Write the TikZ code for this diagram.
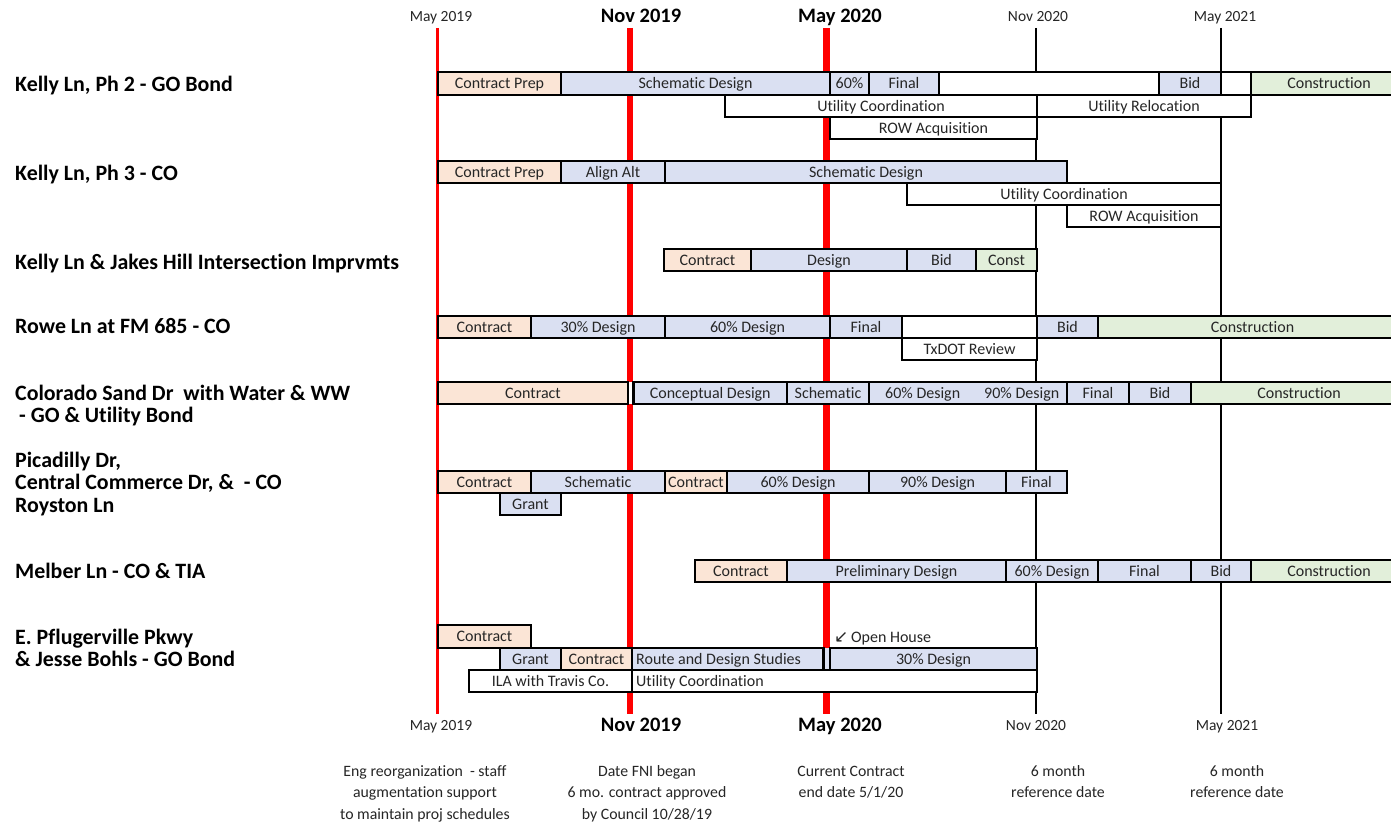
\documentclass[tikz,border=0pt]{standalone}
\usepackage{fontspec}
\setmainfont{Carlito}[Ligatures=NoCommon]
\newfontfamily\arrowfont{DejaVu Sans}
\definecolor{peach}{HTML}{FBE5D6}
\definecolor{lblue}{HTML}{DAE0F2}
\definecolor{lgreen}{HTML}{E2EFDA}
\definecolor{txt}{HTML}{262626}
\definecolor{vred}{HTML}{FF0000}
\tikzset{
  segbox/.style={draw=black, line width=2.8pt, inner sep=0pt, text=txt,
    text height=12pt, text depth=1.7pt,
    font=\fontsize{16}{18}\selectfont},
  segtext/.style={inner sep=0pt, text=txt, anchor=base west,
    font=\fontsize{16}{18}\selectfont},
  rowlabel/.style={anchor=base west, inner sep=0pt, text=black,
    font=\bfseries\fontsize{21.9}{23}\selectfont},
  datesmall/.style={inner sep=0pt, anchor=base, text=txt, font=\fontsize{15.5}{18}\selectfont},
  datebig/.style={inner sep=0pt, anchor=base, text=black, font=\bfseries\fontsize{20.5}{23}\selectfont},
  note/.style={inner sep=0pt, anchor=base, text=txt, font=\fontsize{15.8}{21.5}\selectfont},
  redthin/.style={draw=vred, line width=2.5pt},
  redthick/.style={draw=vred, line width=6.5pt},
  blackline/.style={draw=black, line width=2.5pt},
}
% name, x1, x2, y1, y2, fill, text
\newcommand\seg[7]{%
  \pgfmathsetmacro\segw{#3-#2}%
  \pgfmathsetmacro\segh{#5-#4}%
  \node[segbox, fill=#6, minimum width=\segw pt, minimum height=\segh pt] (#1)
    at ({(#2+#3)/2},{(#4+#5)/2}) {#7};}
\begin{document}
\begin{tikzpicture}[x=1pt,y=-1pt]
\useasboundingbox (0,0) rectangle (1391,824);
\fill[white] (0,0) rectangle (1391,824);

% vertical time lines
\coordinate (m19t) at (437.5,28); \coordinate (m19b) at (437.5,714);
\coordinate (n19t) at (630,28);   \coordinate (n19b) at (630,714);
\coordinate (m20t) at (826.7,28); \coordinate (m20b) at (826.7,714);
\coordinate (n20t) at (1036,28);  \coordinate (n20b) at (1036,714);
\coordinate (m21t) at (1221,28);  \coordinate (m21b) at (1221,714);
\draw[redthin] (m19t) -- (m19b);
\draw[redthick] (n19t) -- (n19b);
\draw[redthick] (m20t) -- (m20b);
\draw[blackline] (n20t) -- (n20b);
\draw[blackline] (m21t) -- (m21b);

% top date labels
\node[datesmall] (tm19) at (441,21.7) {May 2019};
\node[datebig]   (tn19) at (641,22.7) {Nov 2019};
\node[datebig]   (tm20) at (840,22.7) {May 2020};
\node[datesmall] (tn20) at (1038,21.7) {Nov 2020};
\node[datesmall] (tm21) at (1225,21.7) {May 2021};
% bottom date labels
\node[datesmall] (bm19) at (441,730) {May 2019};
\node[datebig]   (bn19) at (641,731) {Nov 2019};
\node[datebig]   (bm20) at (840,731) {May 2020};
\node[datesmall] (bn20) at (1036,730) {Nov 2020};
\node[datesmall] (bm21) at (1227,730) {May 2021};

% row labels
\node[rowlabel] (l1) at (15,91.7) {Kelly Ln, Ph 2 - GO Bond};
\node[rowlabel] (l2) at (15,180.5) {Kelly Ln, Ph 3 - CO};
\node[rowlabel] (l3) at (15,269) {Kelly Ln \& Jakes Hill Intersection Imprvmts};
\node[rowlabel] (l4) at (15,333.5) {Rowe Ln at FM 685 - CO};
\node[rowlabel] (l5a) at (15,400) {Colorado Sand Dr\ \ with Water \& WW};
\node[rowlabel] (l5b) at (15,422.5) {\hspace*{4pt}- GO \& Utility Bond};
\node[rowlabel] (l6a) at (15,467) {Picadilly Dr,};
\node[rowlabel] (l6b) at (15,489.5) {Central Commerce Dr, \&\ \ - CO};
\node[rowlabel] (l6c) at (15,512) {Royston Ln};
\node[rowlabel] (l7) at (15,578.5) {Melber Ln - CO \& TIA};
\node[rowlabel] (l8a) at (15,644) {E. Pflugerville Pkwy};
\node[rowlabel] (l8b) at (15,666.5) {\& Jesse Bohls - GO Bond};

% Row 1: Kelly Ln Ph 2
\seg{a1}{438}{561}{72}{95}{peach}{Contract Prep}
\seg{a2}{561}{830}{72}{95}{lblue}{Schematic Design}
\seg{a3}{830}{869}{72}{95}{lblue}{60\%}
\seg{a4}{869}{939}{72}{95}{lblue}{Final}
\seg{a5}{939}{1159}{72}{95}{white}{}
\seg{a6}{1159}{1221}{72}{95}{lblue}{Bid}
\seg{a7}{1221}{1251}{72}{95}{white}{}
\seg{a8}{1251}{1407}{72}{95}{lgreen}{Construction}
\seg{a9}{725}{1037}{95}{117}{white}{Utility Coordination}
\seg{a10}{1037}{1251}{95}{117}{white}{Utility Relocation}
\seg{a11}{830}{1037}{117}{139}{white}{ROW Acquisition}

% Row 2: Kelly Ln Ph 3
\seg{b1}{438}{561}{161}{183}{peach}{Contract Prep}
\seg{b2}{561}{665}{161}{183}{lblue}{Align Alt}
\seg{b3}{665}{1067}{161}{183}{lblue}{Schematic Design}
\seg{b4}{907}{1221}{183}{205}{white}{Utility Coordination}
\seg{b5}{1067}{1221}{205}{227}{white}{ROW Acquisition}

% Row 3: Kelly Ln & Jakes Hill
\seg{c1}{664}{751}{249}{271}{peach}{Contract}
\seg{c2}{751}{907}{249}{271}{lblue}{Design}
\seg{c3}{907}{976}{249}{271}{lblue}{Bid}
\seg{c4}{976}{1037}{249}{271}{lgreen}{Const}

% Row 4: Rowe Ln
\seg{d1}{438}{531}{316}{338}{peach}{Contract}
\seg{d2}{531}{665}{316}{338}{lblue}{30\% Design}
\seg{d3}{665}{830}{316}{338}{lblue}{60\% Design}
\seg{d4}{830}{902}{316}{338}{lblue}{Final}
\seg{d5}{902}{1037}{316}{338}{white}{}
\seg{d6}{1037}{1098}{316}{338}{lblue}{Bid}
\seg{d7}{1098}{1407}{316}{338}{lgreen}{Construction}
\seg{d8}{902}{1037}{338}{360}{white}{TxDOT Review}

% Row 5: Colorado Sand Dr
\fill[white] (628,382) rectangle (633.5,404);
\seg{e1}{438}{628}{382}{404}{peach}{Contract}
\seg{e2}{633.5}{787}{382}{404}{lblue}{Conceptual Design}
\seg{e3}{787}{869}{382}{404}{lblue}{Schematic}
\seg{e4}{869}{1067}{382}{404}{lblue}{}
\node[segbox, draw=none] (e4a) at (922.7,393) {60\% Design};
\node[segbox, draw=none] (e4b) at (1021.7,393) {90\% Design};
\seg{e5}{1067}{1129}{382}{404}{lblue}{Final}
\seg{e6}{1129}{1191}{382}{404}{lblue}{Bid}
\seg{e7}{1191}{1407}{382}{404}{lgreen}{Construction}

% Row 6: Picadilly
\seg{f1}{438}{531}{471}{493}{peach}{Contract}
\seg{f2}{531}{665}{471}{493}{lblue}{Schematic}
\seg{f3}{665}{727}{471}{493}{peach}{Contract}
\seg{f4}{727}{869}{471}{493}{lblue}{60\% Design}
\seg{f5}{869}{1006}{471}{493}{lblue}{90\% Design}
\seg{f6}{1006}{1067}{471}{493}{lblue}{Final}
\seg{f7}{500}{561}{493}{515}{lblue}{Grant}

% Row 7: Melber Ln
\seg{g1}{695}{787}{560}{582}{peach}{Contract}
\seg{g2}{787}{1006}{560}{582}{lblue}{Preliminary Design}
\seg{g3}{1006}{1098}{560}{582}{lblue}{60\% Design}
\seg{g4}{1098}{1191}{560}{582}{lblue}{Final}
\seg{g5}{1191}{1251}{560}{582}{lblue}{Bid}
\seg{g6}{1251}{1407}{560}{582}{lgreen}{Construction}

% Row 8: E. Pflugerville
\seg{h1}{438}{531}{625}{648}{peach}{Contract}
\seg{h2}{500}{561}{648}{670}{lblue}{Grant}
\seg{h3}{561}{632}{648}{670}{peach}{Contract}
\fill[lblue] (823,648) rectangle (830,670);
\seg{h4}{632}{823.5}{648}{670}{lblue}{}
\node[segtext] (h4t) at (636,664.3) {Route and Design Studies};
\seg{h5}{830}{1037}{648}{670}{lblue}{30\% Design}
\seg{h6}{469}{632}{670}{692}{white}{ILA with Travis Co.}
\seg{h7}{632}{1037}{670}{692}{white}{}
\node[segtext] (h7t) at (636,686.3) {Utility Coordination};
\node[segtext] (oh) at (834,642.7) {{\arrowfont\fontsize{17}{18}\selectfont ↙}\,Open House};

% bottom notes
\node[note] (n1a) at (425,776) {Eng reorganization\ \ - staff};
\node[note] (n1b) at (425,797.5) {augmentation support};
\node[note] (n1c) at (425,819) {to maintain proj schedules};
\node[note] (n2a) at (647,776) {Date FNI began};
\node[note] (n2b) at (647,797.5) {6 mo. contract approved};
\node[note] (n2c) at (647,819) {by Council 10/28/19};
\node[note] (n3a) at (851,776) {Current Contract};
\node[note] (n3b) at (851,797.5) {end date 5/1/20};
\node[note] (n4a) at (1058,776) {6 month};
\node[note] (n4b) at (1058,797.5) {reference date};
\node[note] (n5a) at (1237,776) {6 month};
\node[note] (n5b) at (1237,797.5) {reference date};
\end{tikzpicture}
\end{document}
